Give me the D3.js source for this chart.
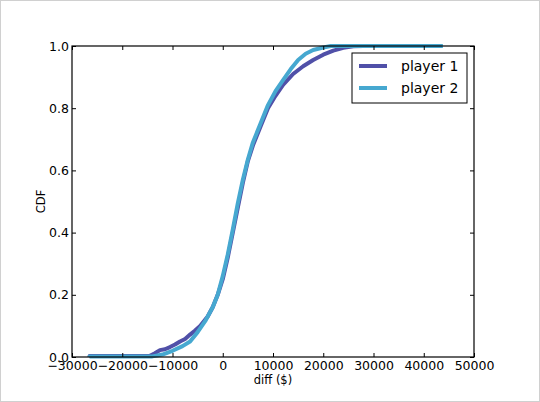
<!DOCTYPE html>
<html>
<head>
<meta charset="utf-8">
<script src="https://cdn.jsdelivr.net/npm/d3@7"></script>
<style>
  body { margin: 0; background: #fff; }
  svg text { font-family: "DejaVu Sans", sans-serif; fill: #000; }
</style>
</head>
<body>
<svg id="svg1" width="540" height="402"></svg>
<script>
// values
var diff1 = [-26500, -26500, -14500, -13500, -12500, -11500, -10500, -9500, -8500, -7500, -6500, -5500, -4500, -3000, -2000, -1000, 0, 1000, 2000, 3000, 4000, 5000, 6000, 7500, 9000, 10500, 12000, 14000, 16000, 18000, 20000, 22000, 24000, 26000, 28000, 30000];
var cdf1  = [0, 0.003, 0.004, 0.012, 0.022, 0.025, 0.032, 0.04, 0.05, 0.058, 0.072, 0.085, 0.1, 0.13, 0.16, 0.2, 0.25, 0.32, 0.4, 0.48, 0.56, 0.63, 0.68, 0.74, 0.8, 0.84, 0.875, 0.91, 0.935, 0.955, 0.972, 0.985, 0.994, 0.999, 1.0, 1.0];

var diff2 = [-26500, -26500, -14000, -12000, -10000, -8000, -6500, -5000, -3500, -2000, -1000, 0, 1000, 2000, 3000, 4000, 5000, 6000, 7500, 9000, 10500, 12000, 13500, 15000, 16500, 18000, 20000, 21500, 43800];
var cdf2  = [0, 0.002, 0.002, 0.008, 0.02, 0.035, 0.05, 0.08, 0.115, 0.16, 0.2, 0.26, 0.33, 0.41, 0.495, 0.57, 0.635, 0.69, 0.75, 0.81, 0.855, 0.89, 0.925, 0.955, 0.975, 0.987, 0.995, 1.0, 1.0];

var seriesNames = ['player 1', 'player 2'];
var seriesColors = ['#5050a8', '#46a8d0'];

var xTicks = [-30000, -20000, -10000, 0, 10000, 20000, 30000, 40000, 50000];
var yTicks = [0, 0.2, 0.4, 0.6, 0.8, 1.0];

var width = 540, height = 402;
var plotLeft = 72, plotRight = 474, plotTop = 46, plotBottom = 357;

var svg = d3.select('#svg1');

svg.append('rect')
    .attr('x', 0.5).attr('y', 0.5)
    .attr('width', width - 1).attr('height', height - 1)
    .attr('fill', '#fff')
    .attr('stroke', '#d0d0d0');

var scaleX = d3.scaleLinear().domain([-30000, 50000]).range([plotLeft, plotRight]);
var scaleY = d3.scaleLinear().domain([0, 1]).range([plotBottom, plotTop]);

var line = d3.line()
    .x(function(d) { return scaleX(d[0]); })
    .y(function(d) { return scaleY(d[1]); });

var series = [d3.zip(diff1, cdf1), d3.zip(diff2, cdf2)];

svg.selectAll('.cdf')
    .data(series)
    .enter()
    .append('path')
    .attr('class', 'cdf')
    .attr('d', line)
    .attr('fill', 'none')
    .attr('stroke', function(d, i) { return seriesColors[i]; })
    .attr('stroke-width', 4)
    .attr('stroke-linejoin', 'round');

// axes, matplotlib style: ticks pointing inwards on all four sides
var fmt = function(d) { return d < 0 ? '\u2212' + Math.abs(d) : String(d); };

svg.append('g')
    .attr('transform', 'translate(0,' + plotBottom + ')')
    .call(d3.axisBottom(scaleX).tickValues(xTicks).tickSizeInner(-4).tickSizeOuter(0).tickPadding(4).tickFormat(fmt))
    .call(function(g) { g.select('.domain').remove(); });

svg.append('g')
    .attr('transform', 'translate(0,' + plotTop + ')')
    .call(d3.axisTop(scaleX).tickValues(xTicks).tickSizeInner(-4).tickSizeOuter(0).tickFormat(''))
    .call(function(g) { g.select('.domain').remove(); });

svg.append('g')
    .attr('transform', 'translate(' + plotLeft + ',0)')
    .call(d3.axisLeft(scaleY).tickValues(yTicks).tickSizeInner(-4).tickSizeOuter(0).tickPadding(3).tickFormat(d3.format('.1f')))
    .call(function(g) { g.select('.domain').remove(); });

svg.append('g')
    .attr('transform', 'translate(' + plotRight + ',0)')
    .call(d3.axisRight(scaleY).tickValues(yTicks).tickSizeInner(-4).tickSizeOuter(0).tickFormat(''))
    .call(function(g) { g.select('.domain').remove(); });

svg.selectAll('.tick line').attr('stroke', '#000');
svg.selectAll('.tick text').attr('font-size', 12.5).attr('font-family', '"DejaVu Sans", sans-serif');

svg.append('rect')
    .attr('x', plotLeft).attr('y', plotTop)
    .attr('width', plotRight - plotLeft).attr('height', plotBottom - plotTop)
    .attr('fill', 'none')
    .attr('stroke', '#000')
    .attr('stroke-width', 1.2);

svg.append('text')
    .attr('x', (plotLeft + plotRight) / 2)
    .attr('y', 384)
    .attr('text-anchor', 'middle')
    .attr('font-size', 11.5)
    .text('diff ($)');

svg.append('text')
    .attr('transform', 'translate(45,' + ((plotTop + plotBottom) / 2) + ') rotate(-90)')
    .attr('text-anchor', 'middle')
    .attr('font-size', 11.5)
    .text('CDF');

// legend
var legend = svg.append('g');
legend.append('rect')
    .attr('x', 352).attr('y', 53)
    .attr('width', 115).attr('height', 50)
    .attr('fill', '#fff')
    .attr('stroke', '#000')
    .attr('stroke-width', 1);

legend.selectAll('.leg-line')
    .data(seriesNames)
    .enter()
    .append('line')
    .attr('x1', 359).attr('x2', 387)
    .attr('y1', function(d, i) { return 66 + i * 22; })
    .attr('y2', function(d, i) { return 66 + i * 22; })
    .attr('stroke', function(d, i) { return seriesColors[i]; })
    .attr('stroke-width', 4);

legend.selectAll('.leg-text')
    .data(seriesNames)
    .enter()
    .append('text')
    .attr('x', 401)
    .attr('y', function(d, i) { return 71 + i * 22; })
    .attr('font-size', 14)
    .text(function(d) { return d; });
</script>
</body>
</html>
